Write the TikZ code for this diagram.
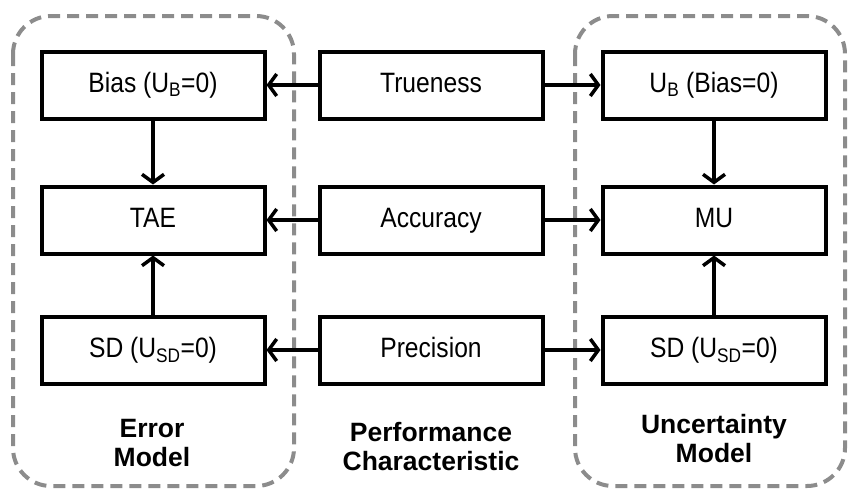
\documentclass[tikz,border=0pt]{standalone}
\usepackage{fontspec}
\setmainfont{Liberation Sans}
\newfontfamily\boxfont{Liberation Sans}[FakeStretch=0.88]
\usetikzlibrary{arrows.meta}

\tikzset{
  blockbox/.style={draw, line width=4pt, minimum width=223pt, minimum height=67pt,
    inner sep=0pt, text height=20pt, text depth=6pt, font=\boxfont\fontsize{28}{32}\selectfont},
  modelbox/.style={draw=gray!90, line width=4pt, dash pattern=on 12pt off 7pt, rounded corners=38pt},
  caption/.style={align=center, font=\fontsize{26.5}{29}\selectfont\bfseries},
  link/.style={line width=3.5pt, -{Straight Barb[length=8pt,width=22pt,line width=3.5pt]}}
}

\begin{document}
\begin{tikzpicture}[x=1pt,y=-1pt]
\useasboundingbox (0,0) rectangle (848,488);

% dashed model frames
\draw[modelbox] (13,16) rectangle (294,486);
\draw[modelbox] (575,16) rectangle (845,486);

% Error Model
\node[blockbox] (bias) at (153,85) {Bias (U\textsubscript{B}=0)};
\node[blockbox] (tae) at (153,220) {TAE};
\node[blockbox] (sdl) at (153,350) {SD (U\textsubscript{SD}=0)};

% Performance Characteristic
\node[blockbox] (trueness) at (431,85) {Trueness};
\node[blockbox] (accuracy) at (431,220) {Accuracy};
\node[blockbox] (precision) at (431,350) {Precision};

% Uncertainty Model
\node[blockbox] (ub) at (714,85) {U\textsubscript{B} (Bias=0)};
\node[blockbox] (mu) at (714,220) {MU};
\node[blockbox] (sdr) at (714,350) {SD (U\textsubscript{SD}=0)};

% captions
\node[caption] (errlabel) at (152,443) {Error\\Model};
\node[caption] (perflabel) at (431,447) {Performance\\Characteristic};
\node[caption] (unclabel) at (714,439) {Uncertainty\\Model};

% arrows
\draw[link] (trueness) -- (bias);
\draw[link] (trueness) -- (ub);
\draw[link] (accuracy) -- (tae);
\draw[link] (accuracy) -- (mu);
\draw[link] (precision) -- (sdl);
\draw[link] (precision) -- (sdr);
\draw[link] (bias) -- (tae);
\draw[link] (sdl) -- (tae);
\draw[link] (ub) -- (mu);
\draw[link] (sdr) -- (mu);

\end{tikzpicture}
\end{document}
